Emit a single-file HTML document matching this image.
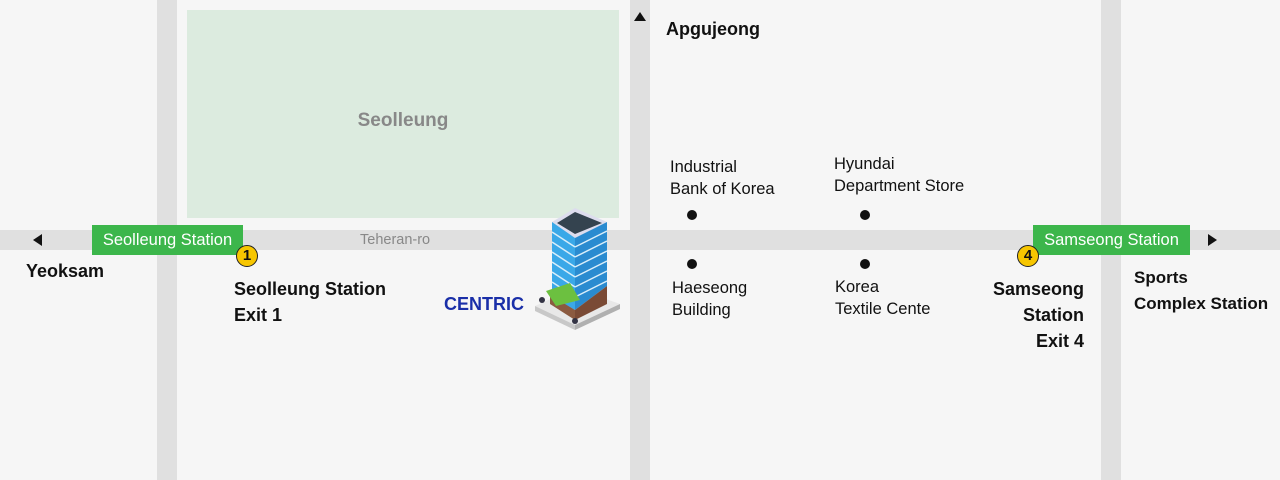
<!DOCTYPE html>
<html><head><style>
body{margin:0;width:1280px;height:480px;background:#f6f6f6;position:relative;overflow:hidden;font-family:"Liberation Sans",sans-serif;}
.a{position:absolute}
.r{position:absolute;background:#e0e0e0}
.t{position:absolute;color:#111;font-size:16.5px;line-height:22px}
.b{position:absolute;font-weight:bold;color:#111;font-size:18px;line-height:26px}
.g{position:absolute;background:#3cb64b;color:#fff;font-size:16.5px;height:30px;line-height:30px;text-align:center}
.c{position:absolute;width:20px;height:20px;border:1.5px solid #222;border-radius:50%;background:#f7c600;font-size:15px;font-weight:bold;text-align:center;line-height:20px;color:#111}
.d{position:absolute;width:10px;height:10px;border-radius:50%;background:#111}
</style></head><body>
<div class="r" style="left:0;top:230px;width:1280px;height:20px"></div>
<div class="r" style="left:157px;top:0;width:20px;height:480px"></div>
<div class="r" style="left:630px;top:0;width:20px;height:480px"></div>
<div class="r" style="left:1101px;top:0;width:20px;height:480px"></div>
<div class="a" style="left:187px;top:10px;width:432px;height:208px;background:#dcebdf"></div>
<div class="a" style="left:187px;top:110px;width:432px;text-align:center;font-weight:bold;font-size:19px;color:#888">Seolleung</div>
<div class="a" style="left:360px;top:232px;font-size:14.5px;color:#888">Teheran-ro</div>
<div class="a" style="left:33px;top:234px;width:0;height:0;border-top:6px solid transparent;border-bottom:6px solid transparent;border-right:9px solid #111"></div>
<div class="a" style="left:1208px;top:234px;width:0;height:0;border-top:6px solid transparent;border-bottom:6px solid transparent;border-left:9px solid #111"></div>
<div class="a" style="left:634px;top:12px;width:0;height:0;border-left:6px solid transparent;border-right:6px solid transparent;border-bottom:9px solid #111"></div>
<div class="g" style="left:92px;top:225px;width:151px">Seolleung Station</div>
<div class="g" style="left:1033px;top:225px;width:157px">Samseong Station</div>
<div class="c" style="left:236px;top:245px">1</div>
<div class="c" style="left:1017px;top:245px">4</div>
<div class="b" style="left:26px;top:258px">Yeoksam</div>
<div class="b" style="left:234px;top:276px">Seolleung Station<br>Exit 1</div>
<div class="b" style="left:960px;top:276px;width:124px;text-align:right">Samseong<br>Station<br>Exit 4</div>
<div class="b" style="left:1134px;top:265px;font-size:17px">Sports<br>Complex Station</div>
<div class="b" style="left:666px;top:16px">Apgujeong</div>
<div class="b" style="left:444px;top:291px;color:#1a2fa8">CENTRIC</div>
<div class="t" style="left:670px;top:156px">Industrial<br>Bank of Korea</div>
<div class="t" style="left:834px;top:153px">Hyundai<br>Department Store</div>
<div class="t" style="left:672px;top:277px">Haeseong<br>Building</div>
<div class="t" style="left:835px;top:276px">Korea<br>Textile Cente</div>
<div class="d" style="left:687px;top:210px"></div>
<div class="d" style="left:860px;top:210px"></div>
<div class="d" style="left:687px;top:259px"></div>
<div class="d" style="left:860px;top:259px"></div>
<svg class="a" style="left:520px;top:200px" width="110" height="140" viewBox="0 0 110 140">
<polygon points="15,106 55,88 100,104 55,125" fill="#e8e8e8"/>
<polygon points="15,106 55,125 55,130 15,111" fill="#c8c8c8"/>
<polygon points="55,125 100,104 100,109 55,130" fill="#b0b0b0"/>
<polygon points="32,22 55,8 87,22 55,38" fill="#dde"/>
<polygon points="37,23 55,12 82,23 55,34" fill="#34434f"/>
<polygon points="32,22 55,38 55,110 32,97" fill="#3aa8e8"/>
<polygon points="55,38 87,22 87,86 55,110" fill="#2a8bd0"/>
<g stroke="#d8eefa" stroke-width="1.5">
<line x1="32" y1="32" x2="55" y2="47"/><line x1="55" y1="47" x2="87" y2="31"/>
<line x1="32" y1="42" x2="55" y2="57"/><line x1="55" y1="57" x2="87" y2="41"/>
<line x1="32" y1="52" x2="55" y2="67"/><line x1="55" y1="67" x2="87" y2="51"/>
<line x1="32" y1="62" x2="55" y2="77"/><line x1="55" y1="77" x2="87" y2="61"/>
<line x1="32" y1="72" x2="55" y2="87"/><line x1="55" y1="87" x2="87" y2="71"/>
<line x1="32" y1="82" x2="55" y2="97"/><line x1="55" y1="97" x2="87" y2="81"/>
</g>
<polygon points="87,86 55,110 55,120 87,104" fill="#7a4a35"/>
<polygon points="30,95 55,110 55,120 30,104" fill="#8b5a40"/>
<polygon points="26,91 50,83 60,100 36,106" fill="#6cc040"/>
<circle cx="22" cy="100" r="3" fill="#334"/><circle cx="55" cy="121" r="3" fill="#334"/>
</svg>
</body></html>
